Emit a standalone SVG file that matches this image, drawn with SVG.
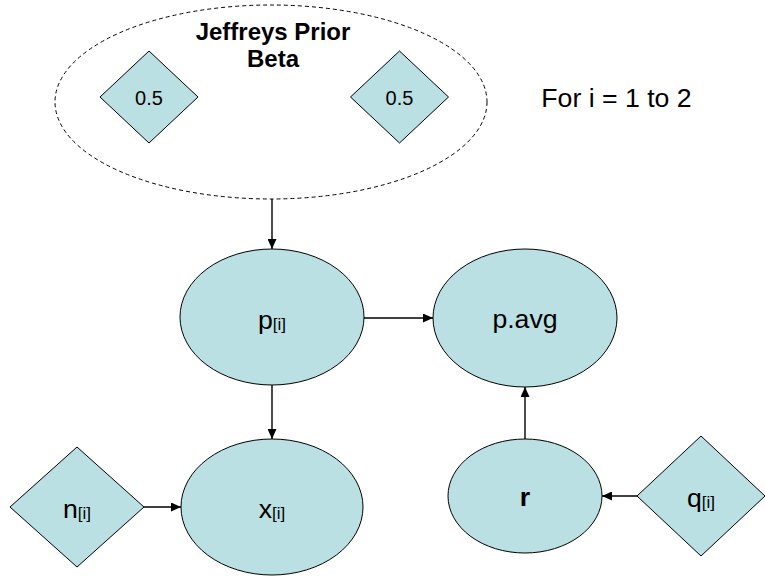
<svg xmlns="http://www.w3.org/2000/svg" width="765" height="576" viewBox="0 0 765 576">
<defs>
<style>
.node{fill:#BBE0E3;stroke:#000;stroke-width:1}
.lbl{font-family:"Liberation Sans",Arial,sans-serif;font-size:26.67px;fill:#000;text-anchor:middle}
.sub{font-size:17px}
.edge{stroke:#000;stroke-width:1.4;fill:none;marker-end:url(#arr)}
</style>
<marker id="arr" markerUnits="userSpaceOnUse" markerWidth="10" markerHeight="9" refX="10" refY="4.5" orient="auto">
<path d="M0,0 L10,4.5 L0,9 z" fill="#000"/>
</marker>
</defs>
<rect width="765" height="576" fill="#fff"/>
<g id="prior">
<ellipse cx="271" cy="102" rx="216" ry="97" fill="none" stroke="#000" stroke-width="1" stroke-dasharray="4,3"/>
<text class="lbl" x="273" y="40" style="font-weight:bold;font-size:24px">Jeffreys Prior</text>
<text class="lbl" x="273" y="67" style="font-weight:bold;font-size:24px">Beta</text>
</g>
<g id="alpha">
<polygon class="node" points="149,51 198,97 149,143 100,97"/>
<text class="lbl" x="149" y="105" style="font-size:20px">0.5</text>
</g>
<g id="beta">
<polygon class="node" points="399.5,51 448.5,97 399.5,143 350.5,97"/>
<text class="lbl" x="399.5" y="105" style="font-size:20px">0.5</text>
</g>
<g id="loop">
<text class="lbl" x="616.5" y="107">For i = 1 to 2</text>
</g>
<g id="p">
<ellipse class="node" cx="272" cy="317" rx="92" ry="68"/>
<text class="lbl" x="272" y="329">p<tspan class="sub" dy="1">[i]</tspan></text>
</g>
<g id="pavg">
<ellipse class="node" cx="525" cy="318" rx="92" ry="69"/>
<text class="lbl" x="525" y="328">p.avg</text>
</g>
<g id="x">
<ellipse class="node" cx="272" cy="507" rx="91" ry="68"/>
<text class="lbl" x="272" y="518">x<tspan class="sub" dy="1">[i]</tspan></text>
</g>
<g id="n">
<polygon class="node" points="77,447 144,507 77,567 10,507"/>
<text class="lbl" x="77" y="518">n<tspan class="sub" dy="1">[i]</tspan></text>
</g>
<g id="r">
<ellipse class="node" cx="525" cy="496" rx="77" ry="57"/>
<text class="lbl" x="525" y="506" style="font-weight:bold">r</text>
</g>
<g id="q">
<polygon class="node" points="701,436 765,496 701,556 637,496"/>
<text class="lbl" x="701" y="507">q<tspan class="sub" dy="1">[i]</tspan></text>
</g>
<g id="connectors">
<line class="edge" x1="272" y1="199" x2="272" y2="249"/>
<line class="edge" x1="364" y1="318" x2="433" y2="318"/>
<line class="edge" x1="272" y1="385" x2="272" y2="439"/>
<line class="edge" x1="144" y1="507" x2="181" y2="507"/>
<line class="edge" x1="525" y1="439" x2="525" y2="387"/>
<line class="edge" x1="637" y1="496" x2="602" y2="496"/>
</g>
</svg>
